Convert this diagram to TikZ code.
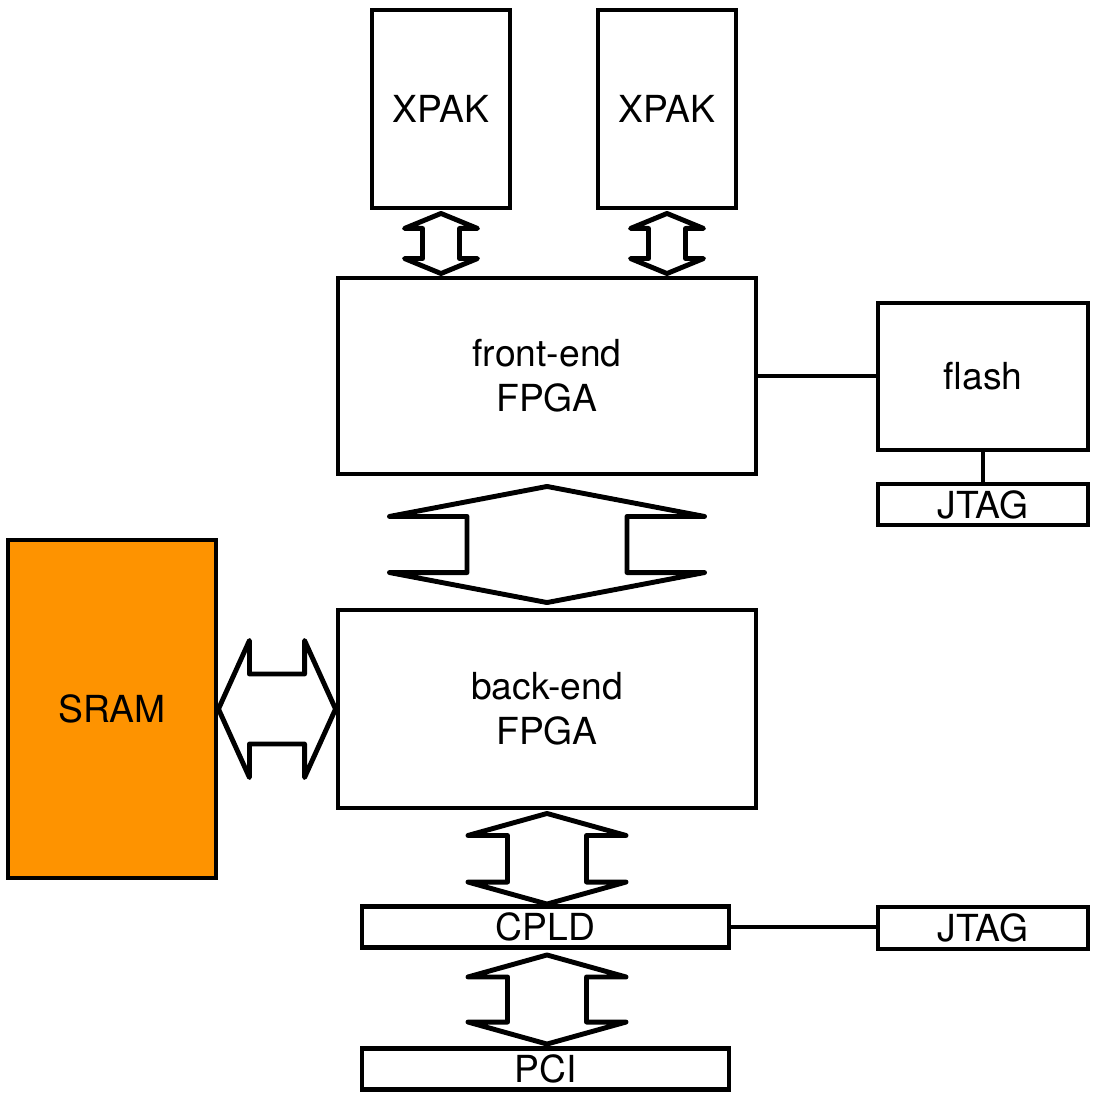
\documentclass[tikz,border=0pt]{standalone}
\usepackage{fontspec}
\setmainfont{TeX Gyre Heros}
\usepackage{tikz}
\usetikzlibrary{positioning,calc}
\usepackage{xcolor}
\definecolor{ink}{RGB}{0,0,0}
\definecolor{sramfill}{RGB}{254,147,0}
\tikzset{
  blk/.style={draw=ink,line width=1.4pt,rectangle,inner sep=0pt,align=center,font=\fontsize{10.6}{12.8}\selectfont},
  bus/.style={draw=ink,line width=1.4pt,line join=round,line cap=round,fill=white},
  wire/.style={draw=ink,line width=1.3pt},
}
% vertical bus arrow: top tip, bottom tip, half head, half shaft, head length
\newcommand{\vbus}[5]{%
  \draw[bus] (#1) -- ($(#1)+(#3,-#5)$) -- ($(#1)+(#4,-#5)$) -- ($(#2)+(#4,#5)$)
    -- ($(#2)+(#3,#5)$) -- (#2) -- ($(#2)+(-#3,#5)$) -- ($(#2)+(-#4,#5)$)
    -- ($(#1)+(-#4,-#5)$) -- ($(#1)+(-#3,-#5)$) -- cycle;}
% horizontal bus arrow: left tip, right tip, half head, half shaft, head length
\newcommand{\hbus}[5]{%
  \draw[bus] (#1) -- ($(#1)+(#5,#3)$) -- ($(#1)+(#5,#4)$) -- ($(#2)+(-#5,#4)$)
    -- ($(#2)+(-#5,#3)$) -- (#2) -- ($(#2)+(-#5,-#3)$) -- ($(#2)+(-#5,-#4)$)
    -- ($(#1)+(#5,-#4)$) -- ($(#1)+(#5,-#3)$) -- cycle;}

\begin{document}
\begin{tikzpicture}
  \useasboundingbox (0,0) rectangle (10.95,-10.92);
  % boxes
  \node[blk,minimum width=1.38cm,minimum height=1.98cm] (xpakA) at (4.41,-1.09){XPAK};
  \node[blk,minimum width=1.38cm,minimum height=1.98cm] (xpakB) at (6.67,-1.09){XPAK};
  \node[blk,minimum width=4.18cm,minimum height=1.96cm] (fe) at (5.47,-3.76){front-end\\FPGA};
  \node[blk,minimum width=2.10cm,minimum height=1.47cm] (flash) at (9.83,-3.765){flash};
  \node[blk,minimum width=2.10cm,minimum height=0.41cm] (jtagA) at (9.83,-5.045){JTAG};
  \node[blk,fill=sramfill,minimum width=2.08cm,minimum height=3.38cm] (sram) at (1.12,-7.09){SRAM};
  \node[blk,minimum width=4.18cm,minimum height=1.98cm] (be) at (5.47,-7.09){back-end\\FPGA};
  \node[blk,minimum width=3.67cm,minimum height=0.41cm] (cpld) at (5.455,-9.27){CPLD};
  \node[blk,minimum width=2.10cm,minimum height=0.42cm] (jtagB) at (9.83,-9.28){JTAG};
  \node[blk,minimum width=3.67cm,minimum height=0.41cm] (pci) at (5.455,-10.69){PCI};

  % plain wires
  \draw[wire] (fe.east) -- (fe.east -| flash.west);
  \draw[wire] (flash.south) -- (jtagA.north);
  \draw[wire] (cpld.east) -- (cpld.east -| jtagB.west);

  % bus end points
  \coordinate (xa1) at ($(xpakA.south)+(0,-0.03)$);
  \coordinate (xa2) at ($(xpakA.south |- fe.north)+(0,0.02)$);
  \coordinate (xb1) at ($(xpakB.south)+(0,-0.03)$);
  \coordinate (xb2) at ($(xpakB.south |- fe.north)+(0,0.02)$);
  \coordinate (fb1) at ($(fe.south)+(0,-0.1)$);
  \coordinate (fb2) at ($(be.north)+(0,0.05)$);
  \coordinate (bc1) at ($(be.south)+(0,-0.03)$);
  \coordinate (bc2) at ($(be.south |- cpld.north)$);
  \coordinate (cp1) at ($(be.south |- cpld.south)+(0,-0.05)$);
  \coordinate (cp2) at ($(be.south |- pci.north)+(0,0.02)$);

  % bus arrows
  \vbus{xa1}{xa2}{0.365}{0.185}{0.15}
  \vbus{xb1}{xb2}{0.365}{0.185}{0.15}
  \vbus{fb1}{fb2}{1.575}{0.80}{0.30}
  \hbus{sram.east}{be.west}{0.685}{0.35}{0.31}
  \vbus{bc1}{bc2}{0.79}{0.395}{0.22}
  \vbus{cp1}{cp2}{0.79}{0.395}{0.22}
\end{tikzpicture}
\end{document}
